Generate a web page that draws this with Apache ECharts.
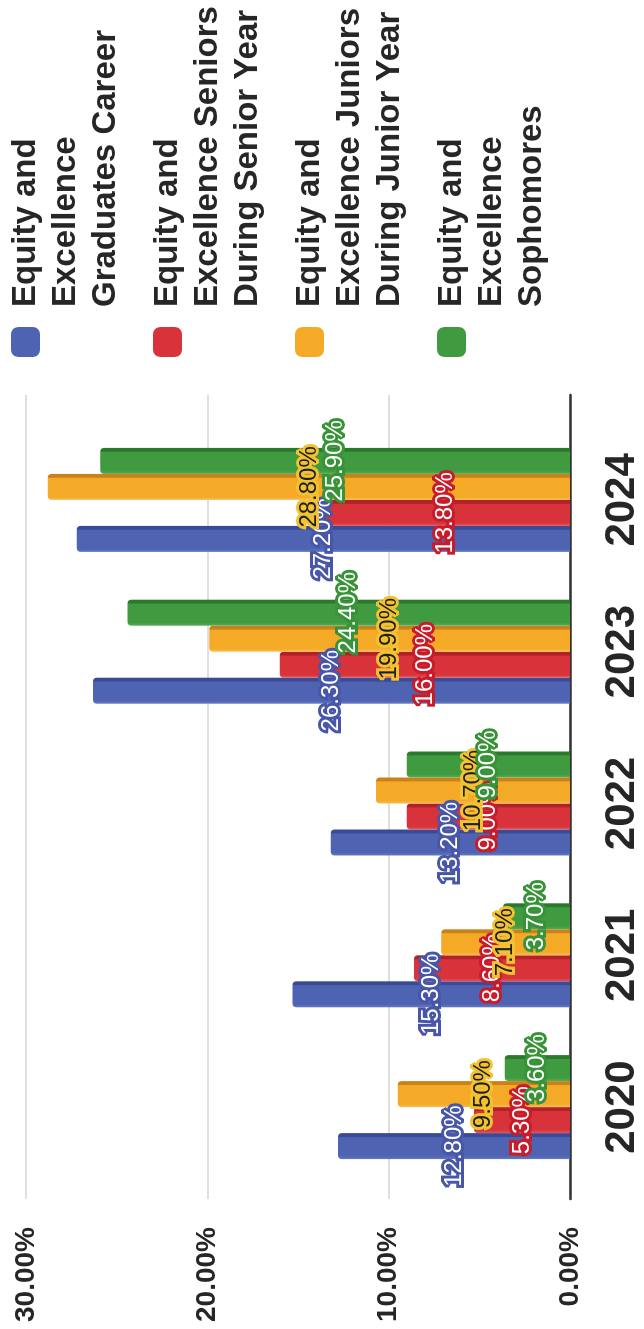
<!DOCTYPE html>
<html>
<head>
<meta charset="utf-8">
<title>Equity and Excellence</title>
<script src="https://cdn.jsdelivr.net/npm/echarts@6/dist/echarts.min.js"></script>
<style>
  html, body { margin: 0; padding: 0; background: #fff; overflow: hidden; }
  #page { position: absolute; left: 0; top: 0; width: 644px; height: 1329px; overflow: hidden; background: #fff; }
  /* the chart is laid out landscape and turned a quarter turn counter-clockwise */
  #chart {
    position: absolute; left: 0; top: 0;
    width: 1329px; height: 644px;
    transform-origin: 0 0;
    transform: translate(0, 1329px) rotate(-90deg);
  }
</style>
</head>
<body>
<div id="page"><div id="chart"></div></div>
<script>
// ---- data ----
const years = ['2020', '2021', '2022', '2023', '2024'];
const seriesNames = [
  'Equity and\nExcellence\nGraduates Career',
  'Equity and\nExcellence Seniors\nDuring Senior Year',
  'Equity and\nExcellence Juniors\nDuring Junior Year',
  'Equity and\nExcellence\nSophomores'
];
const graduatesCareer   = [12.8, 15.3, 13.2, 26.3, 27.2];
const seniorsSeniorYear = [5.3, 8.6, 9.0, 16.0, 13.8];
const juniorsJuniorYear = [9.5, 7.1, 10.7, 19.9, 28.8];
const sophomores        = [3.6, 3.7, 9.0, 24.4, 25.9];
const valueTicks = [0, 10, 20, 30];

// ---- styling ----
const FONT = '"Liberation Sans", Arial, Helvetica, sans-serif';
const palette = [
  { base: '#4f63b3', light: '#6678c2', dark: '#3a4a95', label: '#4756a8', text: '#ffffff' },
  { base: '#d8333b', light: '#e3535a', dark: '#b32029', label: '#c81c2b', text: '#ffffff' },
  { base: '#f4aa27', light: '#f7bd4f', dark: '#c9821a', label: '#f2c230', text: '#1e1e1e' },
  { base: '#409a40', light: '#58ad58', dark: '#2b7a2c', label: '#379337', text: '#ffffff' }
];
const seriesValues = [graduatesCareer, seniorsSeniorYear, juniorsJuniorYear, sophomores];

function barFill(c) {
  return new echarts.graphic.LinearGradient(0, 0, 1, 0, [
    { offset: 0, color: c.light },
    { offset: 0.12, color: c.base },
    { offset: 0.83, color: c.base },
    { offset: 0.87, color: c.dark },
    { offset: 1, color: c.dark }
  ]);
}

const pct = v => Number(v).toFixed(2) + '%';

const chart = echarts.init(document.getElementById('chart'), null, { renderer: 'canvas' });

const series = seriesValues.map((vals, i) => ({
  type: 'bar',
  name: seriesNames[i],
  xAxisIndex: 1,
  yAxisIndex: 1,
  data: vals,
  barWidth: 26,
  barGap: '0%',
  z: 3,
  itemStyle: {
    color: barFill(palette[i]),
    borderRadius: [4, 4, 0, 0]
  },
  label: {
    show: true,
    position: 'inside',
    formatter: p => pct(p.value),
    fontFamily: FONT,
    fontSize: 24,
    color: palette[i].text,
    textBorderColor: palette[i].label,
    textBorderWidth: 6
  }
}));

// legend swatches use the flat series colours
const legendData = seriesNames.map((n, i) => ({
  name: n,
  itemStyle: { color: palette[i].base }
}));

chart.setOption({
  backgroundColor: '#ffffff',
  animation: false,
  textStyle: { fontFamily: FONT },
  color: palette.map(c => c.base),
  grid: [
    // frame: value gridlines, value labels and the zero line
    { left: 130, top: 26, width: 804, height: 544 },
    // plotting band for the year groups
    { left: 146, top: 26, width: 759, height: 544 }
  ],
  xAxis: [
    {
      gridIndex: 0, type: 'value', min: 0, max: 1,
      axisLine: { show: true, onZero: false, lineStyle: { color: '#333333', width: 2.5 } },
      axisTick: { show: false }, axisLabel: { show: false }, splitLine: { show: false }
    },
    {
      gridIndex: 1, type: 'category', data: years,
      axisLine: { show: false }, axisTick: { show: false }, splitLine: { show: false },
      axisLabel: { fontFamily: FONT, fontSize: 42, fontWeight: 'bold', color: '#262626', margin: 31 }
    }
  ],
  yAxis: [
    {
      gridIndex: 0, type: 'value',
      min: valueTicks[0], max: valueTicks[valueTicks.length - 1], interval: valueTicks[1] - valueTicks[0],
      axisLine: { show: false }, axisTick: { show: false },
      splitLine: { lineStyle: { color: '#d4d4d4', width: 1.5 } },
      axisLabel: { formatter: pct, fontFamily: FONT, fontSize: 28, fontWeight: 'bold', color: '#262626', margin: 28 }
    },
    {
      gridIndex: 1, type: 'value',
      min: valueTicks[0], max: valueTicks[valueTicks.length - 1],
      show: false, splitLine: { show: false }
    }
  ],
  legend: {
    orient: 'vertical',
    left: 972,
    top: -74.5,
    padding: 0,
    itemWidth: 30,
    itemHeight: 29,
    itemGap: -58,
    icon: 'roundRect',
    selectedMode: false,
    data: legendData,
    // two leading blank lines put the first text line level with the swatch
    formatter: name => '\n\n' + name,
    textStyle: {
      fontFamily: FONT,
      fontSize: 33,
      fontWeight: 'bold',
      color: '#262626',
      lineHeight: 40,
      padding: [0, 0, 0, 15]
    }
  },
  series: series
});
</script>
</body>
</html>
